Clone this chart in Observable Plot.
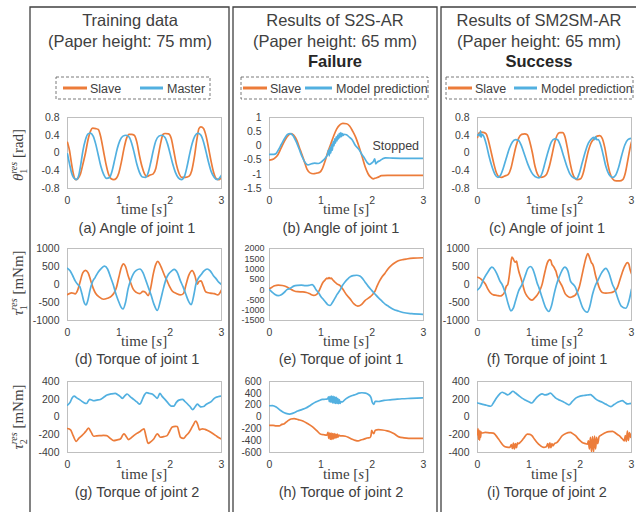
<!DOCTYPE html>
<html><head><meta charset="utf-8">
<script src="https://cdn.jsdelivr.net/npm/d3@7"></script>
<script src="https://cdn.jsdelivr.net/npm/@observablehq/plot@0.6"></script>
<style>
body{margin:0;background:#fff;}
#root{position:relative;width:636px;height:512px;overflow:hidden;font-family:"Liberation Sans",Arial,sans-serif;background:#fff;}
#root svg{position:absolute;}
</style></head><body><div id="root"></div>
<script>
// ---------- data ----------
const xTicks = [0, 1, 2, 3];
const ticksA = [-0.8, -0.4, 0, 0.4, 0.8];
const ticksB = [-1.5, -1, -0.5, 0, 0.5, 1];
const ticksC = [-0.8, -0.4, 0, 0.4, 0.8];
const ticksD = [-1000, -500, 0, 500, 1000];
const ticksE = [-1500, -1000, -500, 0, 500, 1000, 1500, 2000];
const ticksF = [-1000, -500, 0, 500, 1000];
const ticksG = [-400, -200, 0, 200, 400];
const ticksH = [-600, -400, -200, 0, 200, 400, 600];
const ticksI = [-400, -200, 0, 200, 400];

const colTitles = [["Training data", "(Paper height: 75 mm)", ""],
                   ["Results of S2S-AR", "(Paper height: 65 mm)", "Failure"],
                   ["Results of SM2SM-AR", "(Paper height: 65 mm)", "Success"]];
const legendNames = [["Slave", "Master"], ["Slave", "Model prediction"], ["Slave", "Model prediction"]];
const captions = [["(a) Angle of joint 1", "(b) Angle of joint 1", "(c) Angle of joint 1"],
                  ["(d) Torque of joint 1", "(e) Torque of joint 1", "(f) Torque of joint 1"],
                  ["(g) Torque of joint 2", "(h) Torque of joint 2", "(i) Torque of joint 2"]];
const bNote = [{t: 2.46, v: 0, label: "Stopped"}];

const aSlave = [[0,0.24],[0.04,0.05],[0.08,-0.25],[0.12,-0.5],[0.16,-0.6],[0.2,-0.58],[0.25,-0.48],[0.3,-0.25],[0.35,0.0],[0.4,0.3],[0.45,0.5],[0.49,0.56],[0.55,0.55],[0.6,0.53],[0.65,0.35],[0.7,0.05],[0.75,-0.25],[0.8,-0.48],[0.85,-0.58],[0.9,-0.6],[0.95,-0.57],[1.0,-0.45],[1.05,-0.2],[1.1,0.1],[1.15,0.33],[1.2,0.42],[1.25,0.42],[1.3,0.4],[1.35,0.25],[1.4,-0.05],[1.45,-0.3],[1.5,-0.47],[1.55,-0.53],[1.6,-0.5],[1.67,-0.47],[1.72,-0.35],[1.77,-0.05],[1.82,0.25],[1.86,0.42],[1.9,0.44],[1.97,0.43],[2.02,0.33],[2.07,0.05],[2.12,-0.25],[2.17,-0.45],[2.23,-0.55],[2.3,-0.55],[2.37,-0.52],[2.42,-0.4],[2.47,-0.1],[2.52,0.3],[2.56,0.55],[2.6,0.59],[2.65,0.55],[2.7,0.38],[2.75,0.1],[2.8,-0.2],[2.85,-0.45],[2.9,-0.58],[2.95,-0.6],[3.0,-0.55]];
const aMaster = [[0,-0.02],[0.04,-0.25],[0.08,-0.45],[0.12,-0.56],[0.17,-0.6],[0.22,-0.5],[0.26,-0.25],[0.3,0.05],[0.35,0.3],[0.4,0.43],[0.45,0.45],[0.5,0.38],[0.55,0.2],[0.6,-0.05],[0.65,-0.3],[0.7,-0.47],[0.76,-0.57],[0.82,-0.55],[0.87,-0.4],[0.92,-0.15],[0.97,0.1],[1.02,0.28],[1.08,0.38],[1.14,0.4],[1.2,0.36],[1.25,0.22],[1.3,0.0],[1.35,-0.25],[1.4,-0.43],[1.46,-0.54],[1.52,-0.55],[1.57,-0.45],[1.62,-0.22],[1.67,0.05],[1.72,0.27],[1.78,0.38],[1.84,0.4],[1.9,0.35],[1.95,0.2],[2.0,-0.02],[2.05,-0.25],[2.1,-0.43],[2.16,-0.56],[2.22,-0.6],[2.28,-0.52],[2.33,-0.3],[2.38,-0.02],[2.43,0.22],[2.48,0.38],[2.54,0.45],[2.6,0.4],[2.65,0.25],[2.7,0.02],[2.75,-0.22],[2.8,-0.42],[2.86,-0.55],[2.92,-0.6],[2.97,-0.55],[3.0,-0.5]];

const bSlave = [[0,-0.5],[0.08,-0.46],[0.15,-0.35],[0.22,-0.1],[0.3,0.2],[0.37,0.38],[0.42,0.43],[0.47,0.38],[0.53,0.2],[0.6,-0.15],[0.67,-0.5],[0.73,-0.82],[0.79,-0.95],[0.85,-0.98],[0.92,-0.96],[0.98,-0.93],[1.03,-0.8],[1.08,-0.55],[1.13,-0.25],[1.19,0.05],[1.25,0.35],[1.31,0.6],[1.37,0.74],[1.43,0.79],[1.5,0.78],[1.56,0.7],[1.62,0.52],[1.68,0.3],[1.73,0.05],[1.8,-0.35],[1.86,-0.72],[1.92,-0.98],[1.97,-1.1],[2.02,-1.16],[2.07,-1.13],[2.12,-1.1],[2.18,-1.05],[2.3,-1.04],[2.6,-1.04],[3.0,-1.04]];
const bPred = [[0,-0.3],[0.06,-0.3],[0.12,-0.28],[0.17,-0.15],[0.23,0.05],[0.3,0.28],[0.35,0.4],[0.4,0.43],[0.46,0.36],[0.52,0.15],[0.58,-0.12],[0.64,-0.4],[0.7,-0.6],[0.75,-0.67],[0.82,-0.63],[0.88,-0.61],[0.95,-0.62],[1.0,-0.58],[1.05,-0.5],[1.1,-0.4],[1.13,-0.3],[1.15,-0.15],[1.165,-0.35],[1.18,-0.05],[1.195,-0.25],[1.21,0.05],[1.225,-0.15],[1.24,0.15],[1.255,0.0],[1.27,0.25],[1.285,0.1],[1.3,0.32],[1.315,0.18],[1.33,0.38],[1.345,0.25],[1.36,0.44],[1.375,0.3],[1.39,0.47],[1.405,0.33],[1.42,0.43],[1.435,0.37],[1.45,0.41],[1.5,0.39],[1.56,0.3],[1.61,0.22],[1.67,0.02],[1.74,-0.12],[1.8,-0.3],[1.85,-0.43],[1.9,-0.58],[1.95,-0.65],[1.99,-0.6],[2.02,-0.56],[2.05,-0.46],[2.07,-0.63],[2.1,-0.57],[2.15,-0.52],[2.2,-0.46],[2.26,-0.42],[2.4,-0.43],[2.7,-0.44],[3.0,-0.44]];

const cSlave = [[0,0.35],[0.03,0.45],[0.08,0.47],[0.13,0.46],[0.17,0.43],[0.22,0.25],[0.27,0.0],[0.32,-0.25],[0.37,-0.45],[0.42,-0.54],[0.47,-0.55],[0.53,-0.52],[0.6,-0.48],[0.65,-0.35],[0.7,-0.1],[0.75,0.15],[0.8,0.33],[0.86,0.42],[0.92,0.43],[0.97,0.41],[1.02,0.25],[1.07,0.0],[1.12,-0.3],[1.17,-0.48],[1.23,-0.55],[1.3,-0.53],[1.35,-0.47],[1.4,-0.3],[1.45,-0.05],[1.5,0.22],[1.55,0.4],[1.6,0.46],[1.66,0.46],[1.7,0.38],[1.75,0.12],[1.8,-0.2],[1.85,-0.45],[1.9,-0.57],[1.95,-0.6],[2.01,-0.58],[2.06,-0.45],[2.11,-0.2],[2.16,0.05],[2.21,0.22],[2.27,0.32],[2.33,0.38],[2.38,0.39],[2.43,0.33],[2.48,0.12],[2.53,-0.2],[2.58,-0.45],[2.63,-0.58],[2.7,-0.63],[2.77,-0.63],[2.83,-0.6],[2.88,-0.45],[2.93,-0.15],[2.97,0.1],[3.0,0.25]];
const cPred = [[0,0.4],[0.03,0.42],[0.05,0.38],[0.06,0.5],[0.07,0.36],[0.09,0.42],[0.12,0.38],[0.17,0.2],[0.22,-0.05],[0.28,-0.3],[0.34,-0.48],[0.4,-0.55],[0.45,-0.5],[0.5,-0.35],[0.56,-0.12],[0.62,0.1],[0.68,0.25],[0.74,0.3],[0.8,0.28],[0.86,0.15],[0.92,-0.05],[0.98,-0.25],[1.05,-0.43],[1.12,-0.53],[1.2,-0.56],[1.26,-0.45],[1.32,-0.2],[1.38,0.05],[1.44,0.25],[1.5,0.32],[1.56,0.3],[1.62,0.15],[1.68,-0.08],[1.74,-0.3],[1.8,-0.47],[1.87,-0.56],[1.93,-0.58],[1.98,-0.47],[2.04,-0.22],[2.1,0.03],[2.16,0.22],[2.22,0.32],[2.26,0.35],[2.28,0.3],[2.3,0.37],[2.32,0.3],[2.35,0.3],[2.4,0.18],[2.45,-0.05],[2.5,-0.3],[2.56,-0.48],[2.63,-0.55],[2.69,-0.5],[2.75,-0.32],[2.81,-0.05],[2.87,0.18],[2.93,0.3],[3.0,0.33]];

const dSlave = [[0,-280],[0.08,-230],[0.15,-260],[0.2,-150],[0.25,100],[0.3,330],[0.35,390],[0.4,330],[0.45,120],[0.5,-100],[0.55,-250],[0.62,-350],[0.7,-410],[0.78,-380],[0.85,-330],[0.9,-250],[0.95,-100],[1.0,200],[1.05,480],[1.09,575],[1.13,500],[1.18,250],[1.23,50],[1.28,-130],[1.34,-220],[1.41,-255],[1.47,-190],[1.52,-220],[1.57,-310],[1.62,-100],[1.67,290],[1.72,560],[1.76,640],[1.8,560],[1.84,430],[1.89,250],[1.94,100],[1.99,-60],[2.04,-180],[2.12,-250],[2.2,-290],[2.26,-250],[2.31,0],[2.36,245],[2.43,385],[2.48,250],[2.53,10],[2.56,80],[2.6,100],[2.65,-60],[2.69,-200],[2.78,-240],[2.86,-255],[2.93,-290],[2.97,-230],[3.0,-150]];
const dMaster = [[0,450],[0.05,380],[0.1,250],[0.15,100],[0.2,0],[0.24,-60],[0.28,-250],[0.32,-480],[0.36,-570],[0.4,-420],[0.44,-150],[0.48,50],[0.54,200],[0.6,350],[0.66,450],[0.72,510],[0.78,430],[0.84,200],[0.89,0],[0.94,-250],[0.99,-450],[1.04,-620],[1.08,-680],[1.13,-500],[1.18,-120],[1.23,120],[1.28,290],[1.34,390],[1.41,430],[1.47,330],[1.53,100],[1.58,-100],[1.63,-300],[1.68,-530],[1.75,-720],[1.81,-450],[1.87,-100],[1.92,150],[1.97,290],[2.03,380],[2.08,420],[2.14,330],[2.2,100],[2.25,-60],[2.3,-250],[2.36,-470],[2.41,-560],[2.46,-300],[2.5,0],[2.54,150],[2.6,270],[2.66,380],[2.72,430],[2.78,380],[2.84,250],[2.9,150],[2.95,60],[3.0,0]];

const eSlave = [[0,50],[0.05,120],[0.1,190],[0.17,220],[0.25,200],[0.33,140],[0.4,40],[0.47,-50],[0.55,-100],[0.65,-110],[0.72,-140],[0.8,-220],[0.86,-280],[0.92,-230],[0.97,-40],[1.01,200],[1.05,380],[1.08,460],[1.1,520],[1.12,560],[1.14,530],[1.16,590],[1.18,540],[1.2,560],[1.23,480],[1.27,380],[1.32,270],[1.37,210],[1.43,15],[1.5,-250],[1.57,-450],[1.64,-680],[1.72,-800],[1.79,-730],[1.86,-530],[1.94,-390],[2.0,-260],[2.05,-100],[2.1,200],[2.15,450],[2.2,650],[2.25,800],[2.3,980],[2.38,1190],[2.45,1320],[2.51,1400],[2.6,1460],[2.67,1490],[2.8,1530],[3.0,1550]];
const ePred = [[0,0],[0.05,-120],[0.1,-220],[0.17,-290],[0.22,-260],[0.28,-150],[0.34,0],[0.4,60],[0.47,170],[0.55,210],[0.62,220],[0.7,200],[0.77,210],[0.83,240],[0.87,150],[0.91,-20],[0.95,-130],[1.0,-330],[1.05,-480],[1.1,-630],[1.14,-740],[1.18,-770],[1.22,-650],[1.27,-440],[1.32,-220],[1.37,-35],[1.42,200],[1.47,375],[1.52,510],[1.57,620],[1.63,680],[1.7,700],[1.76,660],[1.81,550],[1.86,375],[1.92,170],[1.99,-35],[2.05,-200],[2.12,-390],[2.2,-580],[2.26,-720],[2.32,-815],[2.41,-950],[2.51,-1040],[2.6,-1110],[2.77,-1170],[3.0,-1200]];

const fSlave = [[0,200],[0.05,170],[0.1,110],[0.15,20],[0.2,-120],[0.25,-230],[0.31,-290],[0.37,-300],[0.44,-320],[0.48,-300],[0.53,-200],[0.56,-50],[0.59,0],[0.62,250],[0.64,480],[0.67,760],[0.7,700],[0.72,640],[0.74,620],[0.76,650],[0.78,520],[0.8,390],[0.84,200],[0.87,60],[0.92,-200],[0.97,-330],[1.02,-410],[1.06,-435],[1.11,-380],[1.16,-300],[1.21,-180],[1.26,10],[1.29,200],[1.32,390],[1.36,600],[1.41,690],[1.43,660],[1.45,560],[1.47,520],[1.49,480],[1.51,420],[1.53,360],[1.55,250],[1.6,80],[1.65,-50],[1.71,-260],[1.76,-330],[1.81,-360],[1.86,-330],[1.91,-290],[1.98,-85],[2.04,290],[2.08,550],[2.11,720],[2.15,860],[2.18,760],[2.2,680],[2.22,600],[2.24,575],[2.26,500],[2.3,250],[2.33,100],[2.37,-85],[2.43,-220],[2.5,-240],[2.58,-230],[2.65,-200],[2.72,-100],[2.79,200],[2.86,480],[2.92,610],[2.95,560],[2.97,430],[3.0,300]];
const fPred = [[0,-150],[0.06,-50],[0.12,150],[0.2,340],[0.28,480],[0.34,400],[0.38,290],[0.44,85],[0.48,0],[0.54,-230],[0.6,-550],[0.65,-730],[0.7,-650],[0.74,-460],[0.8,-180],[0.87,10],[0.93,250],[0.98,440],[1.03,500],[1.08,420],[1.12,250],[1.16,50],[1.2,-100],[1.26,-370],[1.33,-650],[1.39,-750],[1.44,-600],[1.49,-280],[1.54,0],[1.59,200],[1.65,400],[1.7,480],[1.76,380],[1.81,100],[1.86,10],[1.9,-60],[1.98,-370],[2.05,-650],[2.14,-770],[2.19,-600],[2.24,-280],[2.29,-50],[2.34,100],[2.42,330],[2.5,450],[2.56,320],[2.63,0],[2.68,-150],[2.73,-370],[2.8,-600],[2.89,-660],[2.95,-460],[3.0,-130]];

const gSlave = [[0,-130],[0.06,-145],[0.11,-210],[0.17,-274],[0.22,-240],[0.28,-210],[0.33,-180],[0.37,-152],[0.41,-126],[0.46,-170],[0.51,-217],[0.57,-212],[0.64,-210],[0.7,-208],[0.76,-210],[0.83,-240],[0.9,-267],[0.97,-258],[1.03,-248],[1.08,-200],[1.1,-190],[1.15,-225],[1.19,-255],[1.24,-235],[1.29,-210],[1.35,-185],[1.42,-160],[1.49,-133],[1.53,-220],[1.57,-297],[1.62,-280],[1.68,-248],[1.75,-190],[1.81,-228],[1.87,-222],[1.94,-210],[1.99,-160],[2.04,-114],[2.1,-105],[2.14,-107],[2.17,-170],[2.2,-228],[2.26,-240],[2.31,-210],[2.37,-171],[2.44,-100],[2.5,-46],[2.54,-90],[2.57,-145],[2.63,-133],[2.68,-140],[2.73,-152],[2.8,-175],[2.89,-210],[2.95,-235],[3.0,-248]];
const gMaster = [[0,133],[0.05,165],[0.09,215],[0.13,236],[0.18,215],[0.25,190],[0.31,165],[0.37,152],[0.43,198],[0.47,192],[0.51,183],[0.57,190],[0.64,198],[0.7,220],[0.77,248],[0.85,260],[0.93,267],[0.98,250],[1.03,229],[1.07,210],[1.12,240],[1.16,259],[1.22,230],[1.29,198],[1.35,170],[1.41,145],[1.46,200],[1.5,250],[1.54,274],[1.6,265],[1.65,259],[1.7,235],[1.75,210],[1.8,267],[1.84,235],[1.88,210],[1.94,171],[2.0,130],[2.02,122],[2.07,122],[2.12,165],[2.17,190],[2.24,198],[2.28,180],[2.33,152],[2.39,115],[2.44,84],[2.48,110],[2.53,145],[2.57,125],[2.6,114],[2.65,118],[2.7,140],[2.76,160],[2.81,180],[2.86,210],[2.93,228],[3.0,236]];

const hSlave = [[0,-140],[0.07,-142],[0.13,-150],[0.19,-151],[0.24,-125],[0.29,-112],[0.35,-70],[0.42,-34],[0.48,-28],[0.56,-45],[0.65,-67],[0.74,-110],[0.84,-168],[0.92,-230],[1.0,-292],[1.06,-300],[1.12,-305],[1.14,-260],[1.155,-360],[1.17,-270],[1.185,-375],[1.2,-270],[1.215,-380],[1.23,-280],[1.245,-370],[1.26,-280],[1.275,-360],[1.29,-290],[1.305,-350],[1.32,-290],[1.335,-340],[1.35,-305],[1.38,-320],[1.43,-320],[1.48,-325],[1.55,-350],[1.61,-375],[1.67,-395],[1.73,-404],[1.79,-385],[1.84,-375],[1.9,-355],[1.96,-347],[1.98,-300],[1.99,-224],[2.01,-260],[2.03,-280],[2.06,-224],[2.12,-215],[2.2,-220],[2.29,-235],[2.36,-255],[2.42,-280],[2.52,-336],[2.62,-352],[2.71,-360],[2.85,-362],[3.0,-360]];
const hPred = [[0,190],[0.06,192],[0.13,168],[0.2,120],[0.26,84],[0.32,62],[0.39,50],[0.46,65],[0.55,100],[0.63,125],[0.71,151],[0.8,200],[0.9,252],[0.97,280],[1.03,297],[1.09,300],[1.13,305],[1.15,340],[1.165,260],[1.18,350],[1.195,250],[1.21,352],[1.225,240],[1.24,348],[1.255,235],[1.27,340],[1.285,230],[1.3,332],[1.315,228],[1.33,315],[1.345,225],[1.36,295],[1.375,230],[1.39,262],[1.42,255],[1.47,295],[1.52,325],[1.6,358],[1.68,381],[1.74,404],[1.8,410],[1.87,404],[1.92,385],[1.95,365],[1.98,320],[2.0,252],[2.03,213],[2.06,264],[2.12,262],[2.23,280],[2.35,290],[2.45,298],[2.58,308],[2.75,315],[3.0,325]];

const iSlave = [[0,-200],[0.01,-130],[0.02,-250],[0.03,-150],[0.04,-260],[0.05,-160],[0.06,-230],[0.07,-170],[0.09,-180],[0.15,-174],[0.23,-178],[0.31,-181],[0.36,-210],[0.41,-249],[0.46,-290],[0.51,-325],[0.57,-340],[0.63,-343],[0.66,-310],[0.68,-355],[0.7,-295],[0.72,-360],[0.74,-300],[0.76,-345],[0.78,-290],[0.8,-300],[0.83,-287],[0.9,-240],[0.97,-192],[1.02,-195],[1.06,-211],[1.11,-250],[1.16,-287],[1.22,-320],[1.29,-343],[1.34,-335],[1.37,-300],[1.39,-350],[1.41,-290],[1.43,-345],[1.45,-300],[1.47,-325],[1.5,-300],[1.55,-287],[1.6,-250],[1.65,-211],[1.72,-185],[1.81,-174],[1.86,-190],[1.91,-211],[1.97,-250],[2.04,-287],[2.1,-300],[2.14,-306],[2.16,-270],[2.18,-360],[2.2,-230],[2.22,-390],[2.24,-220],[2.26,-400],[2.28,-215],[2.3,-360],[2.32,-230],[2.34,-300],[2.37,-220],[2.42,-200],[2.5,-174],[2.56,-165],[2.63,-162],[2.7,-185],[2.76,-211],[2.82,-245],[2.86,-268],[2.88,-210],[2.9,-275],[2.92,-160],[2.94,-265],[2.96,-175],[2.98,-230],[3.0,-190]];
const iPred = [[0,158],[0.05,150],[0.1,142],[0.15,136],[0.2,128],[0.26,121],[0.32,170],[0.38,223],[0.43,258],[0.48,279],[0.53,268],[0.59,249],[0.64,268],[0.69,290],[0.74,270],[0.8,242],[0.86,215],[0.93,192],[1.0,172],[1.06,158],[1.11,190],[1.16,223],[1.21,248],[1.26,260],[1.32,249],[1.37,255],[1.42,268],[1.47,245],[1.52,215],[1.58,195],[1.65,177],[1.72,155],[1.78,136],[1.84,170],[1.92,215],[2.0,235],[2.07,242],[2.14,248],[2.2,253],[2.25,232],[2.3,204],[2.36,182],[2.43,166],[2.5,145],[2.6,117],[2.66,140],[2.73,166],[2.78,178],[2.82,185],[2.87,165],[2.92,147],[2.96,150],[3.0,155]];

// ---------- drawing ----------
const ORANGE = "#ec7c3a", BLUE = "#52b0e0", TXT = "#404040";
const root = document.getElementById("root");
const colX = [[67, 221], [269, 423], [477, 631]];
const rowY = [[117, 188], [248, 320], [381, 452]];

function cell(col, row, slave, pred, yDomain, yTicks, yFont = 10.5, extra = []) {
  const [x0, x1] = colX[col], [y0, y1] = rowY[row];
  const mL = 46, mR = 4, mT = 4, mB = 22;
  const p = Plot.plot({
    width: (x1 - x0) + mL + mR, height: (y1 - y0) + mT + mB,
    marginLeft: mL, marginRight: mR, marginTop: mT, marginBottom: mB,
    x: {domain: [0, 3]}, y: {domain: yDomain},
    style: {fontFamily: '"Liberation Sans", Arial, sans-serif', fontSize: "10.5px", color: TXT, background: "transparent", overflow: "visible"},
    marks: [
      Plot.frame({stroke: "#bfbfbf", strokeWidth: 1}),
      Plot.axisX({ticks: xTicks, tickSize: 0, tickPadding: 8, tickFormat: d => String(d), label: null}),
      Plot.axisY({ticks: yTicks, tickSize: 0, tickPadding: yFont < 10 ? 5 : 8, tickFormat: d => String(d), label: null, fontSize: yFont}),
      Plot.line(slave, {x: d => d[0], y: d => d[1], stroke: ORANGE, strokeWidth: 1.7, curve: "monotone-x", clip: true}),
      Plot.line(pred, {x: d => d[0], y: d => d[1], stroke: BLUE, strokeWidth: 1.7, curve: "monotone-x", clip: true}),
      ...extra
    ]
  });
  p.style.position = "absolute";
  p.style.left = (x0 - mL) + "px";
  p.style.top = (y0 - mT) + "px";
  root.appendChild(p);
}

cell(0, 0, aSlave, aMaster, [-0.8, 0.8], ticksA);
cell(1, 0, bSlave, bPred, [-1.5, 1], ticksB, 10.5, [
  Plot.text(bNote, {x: "t", y: "v", text: "label", fontSize: 12.5, fill: TXT})
]);
cell(2, 0, cSlave, cPred, [-0.8, 0.8], ticksC);
cell(0, 1, dSlave, dMaster, [-1000, 1000], ticksD);
cell(1, 1, eSlave, ePred, [-1500, 2000], ticksE, 9);
cell(2, 1, fSlave, fPred, [-1000, 1000], ticksF);
cell(0, 2, gSlave, gMaster, [-400, 400], ticksG);
cell(1, 2, hSlave, hPred, [-600, 600], ticksH, 10);
cell(2, 2, iSlave, iPred, [-400, 400], ticksI);

// ---------- overlay: boxes, titles, legends, captions ----------
const boxes = [[30, 229], [233, 437], [441, 640]];
const titleCx = [130, 335, 539];
const captionCx = [137, 341, 547];
const legendBox = [[56, 154, [63, 87, 90], [140, 163, 167]],
                   [241, 187, [243, 267, 270], [305, 332, 336]],
                   [446, 187, [448, 472, 475], [514, 537, 541]]];
const timeBase = [214, 346, 479];
const capBase = [233, 364, 497];
const yLab = [["θ", "1", "rad", 155], ["τ", "1", "mNm", 283], ["τ", "2", "mNm", 417]];

let s = `<svg xmlns="http://www.w3.org/2000/svg" width="636" height="512" style="left:0;top:0;z-index:5;pointer-events:none">`;
for (const [l, r] of boxes) {
  s += `<path d="M${l},512V7H${r}V512" fill="none" stroke="#404040" stroke-width="1.3"/>`;
}
const sans = `font-family='"Liberation Sans", Arial, sans-serif'`;
const serif = `font-family='"Liberation Serif", "Times New Roman", serif'`;
colTitles.forEach(([t1, t2, t3], i) => {
  s += `<text x="${titleCx[i]}" y="26" text-anchor="middle" ${sans} font-size="16.5" fill="${TXT}">${t1}</text>`;
  s += `<text x="${titleCx[i]}" y="46.5" text-anchor="middle" ${sans} font-size="16.5" fill="${TXT}">${t2}</text>`;
  if (t3) s += `<text x="${titleCx[i]}" y="67" text-anchor="middle" ${sans} font-size="16.5" font-weight="bold" fill="#262626">${t3}</text>`;
});
legendBox.forEach(([bx, bw, o, b], i) => {
  s += `<rect x="${bx}" y="77" width="${bw}" height="22" fill="none" stroke="#595959" stroke-width="0.8" stroke-dasharray="3,2"/>`;
  s += `<line x1="${o[0]}" x2="${o[1]}" y1="88" y2="88" stroke="${ORANGE}" stroke-width="3"/>`;
  s += `<text x="${o[2]}" y="92.5" ${sans} font-size="12.5" fill="${TXT}">${legendNames[i][0]}</text>`;
  s += `<line x1="${b[0]}" x2="${b[1]}" y1="88" y2="88" stroke="${BLUE}" stroke-width="3"/>`;
  s += `<text x="${b[2]}" y="92.5" ${sans} font-size="12.5" fill="${TXT}">${legendNames[i][1]}</text>`;
});
for (let r = 0; r < 3; r++) {
  for (let c = 0; c < 3; c++) {
    const cx = (colX[c][0] + colX[c][1]) / 2;
    s += `<text x="${cx}" y="${timeBase[r]}" text-anchor="middle" ${serif} font-size="15" fill="${TXT}">time [<tspan font-style="italic">s</tspan>]</text>`;
    s += `<text x="${captionCx[c]}" y="${capBase[r]}" text-anchor="middle" ${sans} font-size="14.5" fill="${TXT}">${captions[r][c]}</text>`;
  }
  const [sym, sub, unit, cy] = yLab[r];
  s += `<text transform="translate(23,${cy}) rotate(-90)" text-anchor="middle" ${serif} font-size="15" fill="${TXT}"><tspan font-style="italic">${sym}</tspan><tspan font-size="10" dy="4">${sub}</tspan><tspan font-size="10" font-style="italic" dx="-5" dy="-10">res</tspan><tspan dy="6"> [${unit}]</tspan></text>`;
}
s += `</svg>`;
root.insertAdjacentHTML("beforeend", s);
</script></body></html>
